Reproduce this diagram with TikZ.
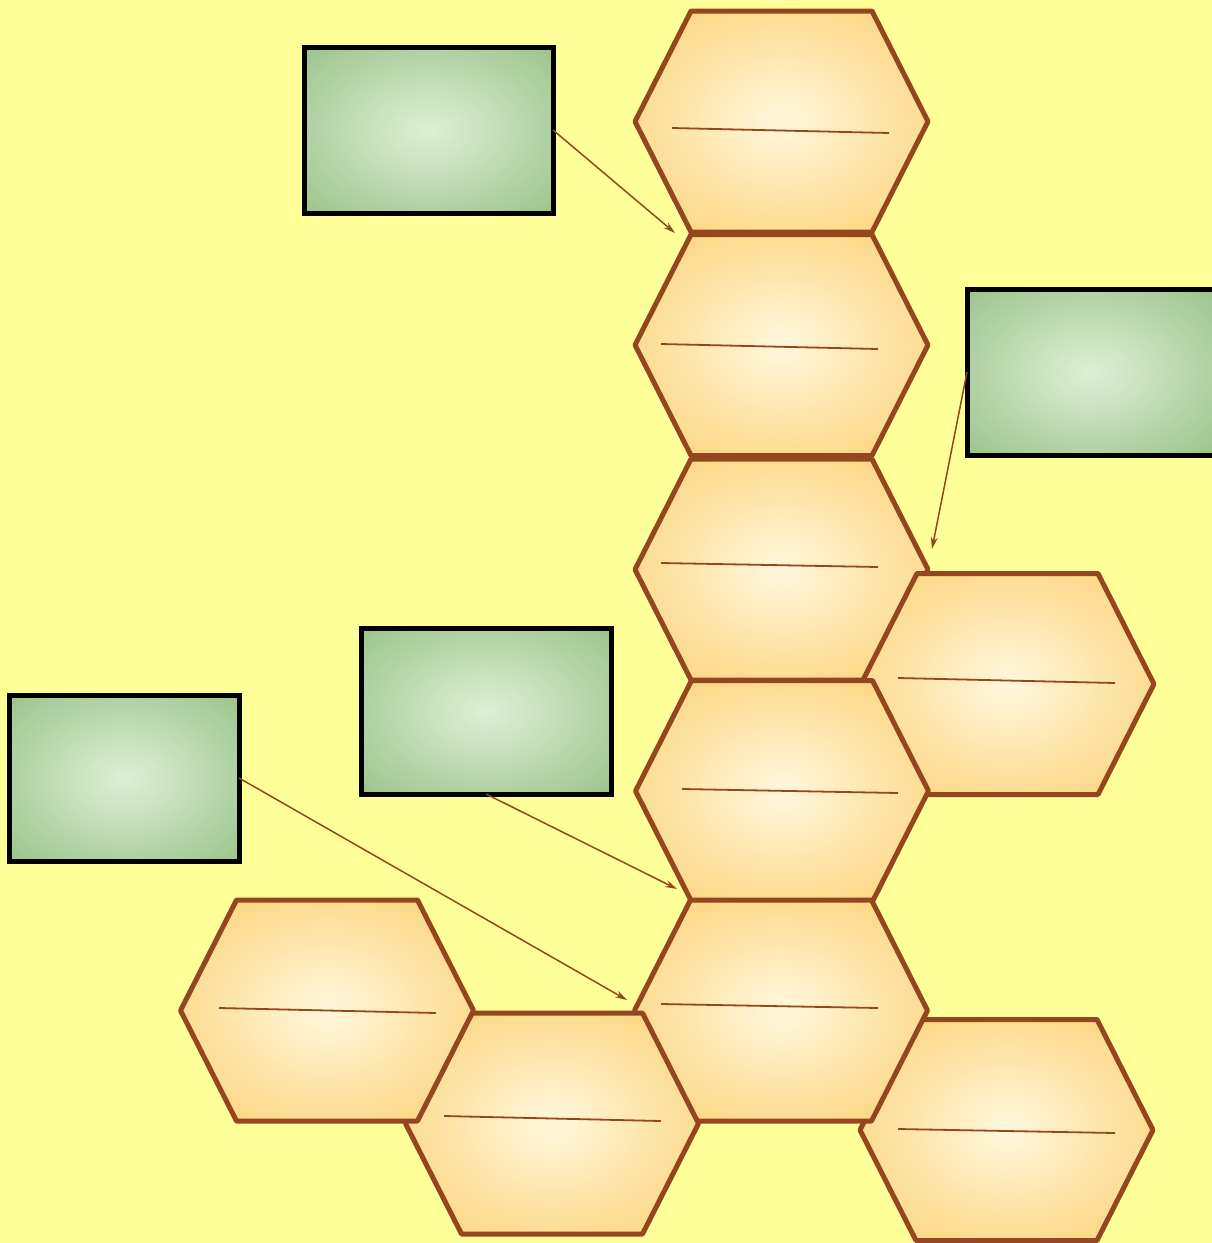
\documentclass[tikz,border=0pt]{standalone}
\usetikzlibrary{arrows.meta}
\definecolor{bg}{HTML}{FFFF99}
\definecolor{hexline}{HTML}{96461F}
\definecolor{hexout}{HTML}{FCD886}
\definecolor{hexin}{HTML}{FFF7DC}
\definecolor{grout}{HTML}{9AC38A}
\definecolor{grin}{HTML}{DEEFD6}
\pgfdeclareradialshading{greenrad}{\pgfpoint{0bp}{0bp}}{color(0bp)=(grin); color(36bp)=(grout); color(50bp)=(grout)}
\pgfdeclareradialshading{hexrad}{\pgfpoint{0bp}{0bp}}{color(0bp)=(hexin); color(29bp)=(hexout); color(50bp)=(hexout)}
\newcommand\hexa[5]{%
  \path[hexbox,shift={(#2,#3)}] (-90.5,-110.5) -- (90.5,-110.5) -- (146.5,0) -- (90.5,110.5) -- (-90.5,110.5) -- (-146.5,0) -- cycle;
  \coordinate (#1) at (#2,#3);
  \draw[innerline] (#4) -- (#5);
}
\begin{document}
\begin{tikzpicture}[x=1pt,y=-1pt,
  hexbox/.style={draw=hexline,line width=5pt,line join=round,shading=hexrad},
  innerline/.style={draw=hexline,line width=1.8pt},
  greenbox/.style={draw=black,line width=5pt,shading=greenrad,inner sep=0pt,outer sep=0pt},
  arr/.style={draw=hexline,line width=1.5pt,-{Stealth[length=12pt,width=7pt]}}]
\useasboundingbox (0,0) rectangle (1212,1243);
\clip (0,0) rectangle (1212,1243);
\fill[bg] (0,0) rectangle (1212,1243);
\hexa{h1}{781.5}{121.5}{672,128}{889,133}
\hexa{h2}{781.5}{345}{661,344}{878,349}
\hexa{h3}{781.5}{569.5}{661,563}{878,567}
\hexa{h4}{1007.5}{684}{898,678}{1115,683}
\hexa{h5}{782}{791}{682,789}{898,793}
\hexa{h9}{1006.5}{1130}{898,1129}{1115,1133}
\hexa{h6}{781}{1010.5}{661,1004}{878,1008}
\hexa{h8}{552}{1123.5}{444,1116}{661,1121}
\hexa{h7}{327}{1010.5}{219,1008}{436,1013}
\node[greenbox,minimum width=249pt,minimum height=166pt] (r1) at (428.5,130) {};
\node[greenbox,minimum width=247pt,minimum height=166pt] (r2) at (1090.5,372) {};
\node[greenbox,minimum width=250pt,minimum height=166pt] (r3) at (486,711) {};
\node[greenbox,minimum width=230pt,minimum height=166pt] (r4) at (124,778) {};
\coordinate (e1) at (675,233);
\coordinate (e2) at (932,549);
\coordinate (e3) at (677,889);
\coordinate (e4) at (627,1000);
\draw[arr] (r1.east) -- (e1);
\draw[arr] (r2.west) -- (e2);
\draw[arr] (r3.south) -- (e3);
\draw[arr] (r4.east) -- (e4);
\end{tikzpicture}
\end{document}
